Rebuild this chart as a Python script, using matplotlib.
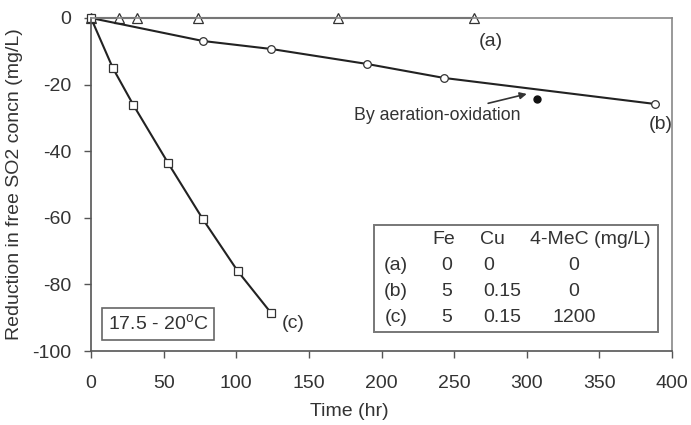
import matplotlib
matplotlib.use("Agg")
import matplotlib.pyplot as plt
from matplotlib.patches import Rectangle

plt.rcParams["font.family"] = ["Liberation Sans", "DejaVu Sans"]
plt.rcParams["axes.unicode_minus"] = False

# (a) no metals
time_a = [0, 19, 32, 74, 170, 264]
conc_a = [0, 0, 0, 0, 0, 0]
# (b) Fe + Cu
time_b = [0, 77, 124, 190, 243, 388]
conc_b = [0, -6.9, -9.3, -13.8, -18.0, -25.8]
# (c) Fe + Cu + 4-MeC
time_c = [0, 15, 29, 53, 77, 101, 124]
conc_c = [0, -15.0, -26.0, -43.5, -60.4, -76.0, -88.6]
# aeration-oxidation point
time_air = [307]
conc_air = [-24.4]

table_header = ["Fe", "Cu", "4-MeC (mg/L)"]
table_rows = ["(a)", "(b)", "(c)"]
table_fe = ["0", "5", "5"]
table_cu = ["0", "0.15", "0.15"]
table_mec = ["0", "0", "1200"]

TXT = "#333333"
LINE = "#222222"
FS = 14

fig = plt.figure(figsize=(6.91, 4.25), dpi=100)
ax = fig.add_axes([91 / 691, 1 - 351 / 425, 581 / 691, 333 / 425])

mk = dict(color=LINE, lw=1.5, markerfacecolor="white", markeredgecolor="#333333",
          markeredgewidth=0.9, clip_on=False)
ax.plot(time_a, conc_a, marker="^", markersize=7, **mk)
ax.plot(time_b, conc_b, marker="o", markersize=5.5, **mk)
ax.plot(time_c, conc_c, marker="s", markersize=6, **mk)
ax.plot(time_air, conc_air, "o", color="#111111", markersize=5)

ax.set_xlim(0, 400)
ax.set_ylim(-100, 0)
ax.set_xticks(range(0, 401, 50))
ax.set_yticks(range(-100, 1, 20))
ax.tick_params(direction="out", length=5, width=1, color="#555555",
               labelsize=FS, labelcolor=TXT)
ax.tick_params(axis="x", pad=12)
ax.tick_params(axis="y", pad=9)
for side in ["left", "bottom"]:
    ax.spines[side].set_color("#555555")
    ax.spines[side].set_linewidth(1.2)
for side in ["top", "right"]:
    ax.spines[side].set_color("#888888")
    ax.spines[side].set_linewidth(1.2)

fig.text(349 / 691, 1 - 412 / 425, "Time (hr)", fontsize=FS, color=TXT,
         ha="center", va="center")
fig.text(15 / 691, 1 - 184 / 425, "Reduction in free SO2 concn (mg/L)", fontsize=FS,
         color=TXT, ha="center", va="center", rotation=90)

ax.text(275, -7.2, "(a)", fontsize=FS, color=TXT, ha="center", va="center")
ax.text(392, -32, "(b)", fontsize=FS, color=TXT, ha="center", va="center")
ax.text(139, -91.6, "(c)", fontsize=FS, color=TXT, ha="center", va="center")

ax.annotate("By aeration-oxidation", xy=(300, -22.8), xytext=(296, -29.3),
            fontsize=12.8, color=TXT, ha="right", va="center",
            arrowprops=dict(arrowstyle="-|>", color="#333333", lw=1.2,
                            mutation_scale=10, shrinkA=3, shrinkB=0))

ax.text((158 - 91) / 581, (351 - 324) / 333, r"17.5 - 20$^\mathregular{o}$C",
        transform=ax.transAxes, fontsize=FS, color=TXT, ha="center", va="center",
        bbox=dict(boxstyle="square,pad=0.3", facecolor="white", edgecolor="#666666", lw=1.2))

def fx(px):
    return (px - 91) / 581

def fy(py):
    return (351 - py) / 333

ax.add_patch(Rectangle((fx(374), fy(332)), fx(658) - fx(374), fy(225) - fy(332),
                       transform=ax.transAxes, facecolor="white", edgecolor="#777777",
                       lw=1.4, zorder=3))
tk = dict(transform=ax.transAxes, fontsize=FS, color=TXT, va="center", zorder=4)
ax.text(fx(444), fy(240), table_header[0], ha="center", **tk)
ax.text(fx(492), fy(240), table_header[1], ha="center", **tk)
ax.text(fx(530), fy(240), table_header[2], ha="left", **tk)
row_y = [266, 292, 318]
for i in range(len(table_rows)):
    ax.text(fx(396), fy(row_y[i]), table_rows[i], ha="center", **tk)
    ax.text(fx(447), fy(row_y[i]), table_fe[i], ha="center", **tk)
    ax.text(fx(483), fy(row_y[i]), table_cu[i], ha="left", **tk)
    ax.text(fx(574), fy(row_y[i]), table_mec[i], ha="center", **tk)

fig.savefig("out.png", dpi=100)
